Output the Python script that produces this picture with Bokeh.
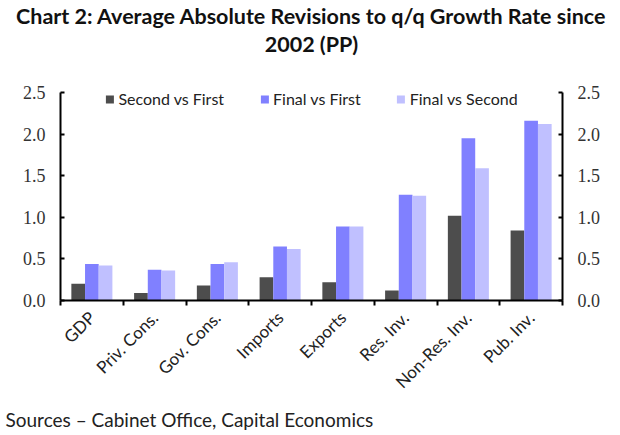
from bokeh.plotting import figure
from bokeh.models import (ColumnDataSource, LinearAxis, FixedTicker, Range1d, Legend,
                          LegendItem, Title, NumeralTickFormatter)
from bokeh.embed import file_html
from bokeh.resources import INLINE
import math

categories = ["GDP", "Priv. Cons.", "Gov. Cons.", "Imports", "Exports", "Res. Inv.",
              "Non-Res. Inv.", "Pub. Inv."]
second_vs_first = [0.20, 0.09, 0.18, 0.28, 0.22, 0.12, 1.02, 0.84]
final_vs_first = [0.44, 0.37, 0.44, 0.65, 0.89, 1.27, 1.95, 2.16]
final_vs_second = [0.42, 0.36, 0.46, 0.62, 0.89, 1.26, 1.59, 2.12]
y_ticks = [0.0, 0.5, 1.0, 1.5, 2.0, 2.5]
y_max = 2.5
title_lines = ["Chart 2: Average Absolute Revisions to q/q Growth Rate since", "2002 (PP)"]
source_text = "Sources \u2013 Cabinet Office, Capital Economics"

series = [("Second vs First", second_vs_first, "#4d4d4d", -0.218),
          ("Final vs First", final_vs_first, "#8080ff", 0.0),
          ("Final vs Second", final_vs_second, "#c0c0ff", 0.218)]

n = len(categories)
centers = [i + 0.5 for i in range(n)]
bounds = list(range(n + 1))

W, H = 620, 435
TOP, BOTTOM, LEFT, RIGHT = 56, 135, 60, 58
AXIS_TOP_PX = 92          # where the 2.5 tick sits on the page
frame_h = H - TOP - BOTTOM
y_end = y_max * frame_h / (frame_h - (AXIS_TOP_PX - TOP))

p = figure(width=W, height=H, output_backend="svg", toolbar_location=None,
           x_range=Range1d(0, n), y_range=Range1d(0, y_end),
           min_border_left=LEFT, min_border_right=RIGHT, min_border_top=TOP,
           min_border_bottom=BOTTOM)
p.outline_line_color = None
p.grid.visible = False
p.background_fill_color = "white"

items = []
for name, vals, color, off in series:
    src = ColumnDataSource(dict(x=[c + off for c in centers], top=vals))
    r = p.vbar(x="x", top="top", width=0.218, bottom=0, source=src, fill_color=color,
               line_color=None)
    items.append(LegendItem(label=name, renderers=[r]))

legend = Legend(items=items, orientation="horizontal", location="top_center",
                border_line_color=None, background_fill_alpha=0, label_text_font="Lato",
                label_text_font_size="16px", label_text_color="#222222",
                glyph_width=10, glyph_height=10, spacing=35, margin=33, padding=0,
                label_standoff=4)
p.add_layout(legend, "center")

# x axis
xa = p.xaxis[0]
xa.ticker = FixedTicker(ticks=centers, minor_ticks=bounds)
xa.major_label_overrides = {c: lab for c, lab in zip(centers, categories)}
xa.major_label_orientation = math.pi / 4
xa.major_tick_line_color = None
xa.minor_tick_line_color = "black"
xa.minor_tick_line_width = 2
xa.minor_tick_out = 5
xa.minor_tick_in = 0
xa.axis_line_width = 2
xa.axis_line_color = "black"
xa.major_label_text_font = "Lato"
xa.major_label_text_font_size = "17px"
xa.major_label_text_color = "#222222"
xa.major_label_standoff = 8

def style_y(ax):
    ax.ticker = FixedTicker(ticks=y_ticks)
    ax.bounds = (0, y_max)
    ax.axis_line_width = 2
    ax.axis_line_color = "black"
    ax.major_tick_in = 4
    ax.major_tick_out = 0
    ax.major_tick_line_width = 2
    ax.minor_tick_line_color = None
    ax.major_label_text_font = "Liberation Serif"
    ax.major_label_text_font_size = "18px"
    ax.major_label_text_color = "#333333"
    ax.major_label_standoff = 15
    ax.formatter = NumeralTickFormatter(format="0.0")

ya = p.yaxis[0]
style_y(ya)
yr = LinearAxis()
style_y(yr)
p.add_layout(yr, "right")

t2 = Title(text=title_lines[1], align="center", text_font="Lato",
           text_font_size="21.5px", text_font_style="bold", text_color="#111111",
           standoff=0, text_line_height=1.0)
t1 = Title(text=title_lines[0], align="center", text_font="Lato",
           text_font_size="21.5px", text_font_style="bold", text_color="#111111",
           standoff=0, text_line_height=1.0)
p.add_layout(t2, "above")
p.add_layout(t1, "above")

src_t = Title(text=source_text, align="left", text_font="Lato", text_font_size="19px",
              text_font_style="normal", text_color="#222222", offset=-55, standoff=7,
              text_line_height=1.0)
p.add_layout(src_t, "below")

open("out.html", "w").write(file_html(p, INLINE))
